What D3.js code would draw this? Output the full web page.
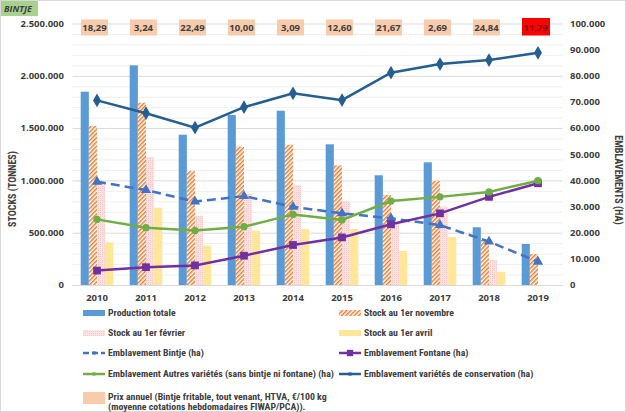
<!DOCTYPE html>
<html>
<head>
<meta charset="utf-8">
<script src="https://cdn.jsdelivr.net/npm/d3@7"></script>
<style>
  body { margin: 0; background: #fff; }
  svg { font-family: "Open Sans", "Noto Sans", sans-serif; font-weight: bold; }
  .tick-lbl { font-size: 9.5px; fill: #404040; }
  .leg { font-size: 9.8px; fill: #404040; font-family: "Liberation Sans Narrow", "Roboto Condensed", sans-serif; }
  .ttl { font-size: 10px; fill: #404040; font-family: "Liberation Sans Narrow", "Roboto Condensed", sans-serif; }
</style>
</head>
<body>
<svg id="chart" width="626" height="412"></svg>
<script>
// Bintje : stocks (t) et emblavements (ha)
const years = ['2010', '2011', '2012', '2013', '2014', '2015', '2016', '2017', '2018', '2019']

const production = [1848000, 2100000, 1437000, 1625000, 1666000, 1345000, 1049000, 1173000, 552000, 392000]
const stockNov = [1520000, 1743000, 1090000, 1322000, 1341000, 1144000, 860000, 994000, 430000, 296000]
const stockFeb = [965000, 1221000, 663000, 870000, 956000, 803000, 600000, 750000, 239000, 0]
const stockAvr = [408000, 739000, 376000, 519000, 535000, 535000, 325000, 459000, 127000, 0]

const emblBintje = [39500, 36300, 31900, 34000, 29900, 27400, 25500, 22900, 16600, 8900]
const emblFontane = [5500, 6800, 7500, 11200, 15300, 18200, 23200, 27400, 33700, 38900]
const emblAutres = [25100, 21900, 20800, 22300, 27000, 24900, 32100, 33700, 35600, 39900]
const emblConserv = [70600, 65700, 60200, 68000, 73300, 70700, 81200, 84500, 86000, 88800]

const prix = ['18,29', '3,24', '22,49', '10,00', '3,09', '12,60', '21,67', '2,69', '24,84', '11,79']

const leftTicks = [0, 500000, 1000000, 1500000, 2000000, 2500000]
const rightTicks = [0, 10000, 20000, 30000, 40000, 50000, 60000, 70000, 80000, 90000, 100000]

const fmt = d3.formatLocale({ decimal: ',', thousands: '.', grouping: [3], currency: ['', '€'] }).format(',d')

const svg = d3.select('#chart')
const plotTop = 23.5, plotBottom = 285, plotLeft = 72.5, plotRight = 562.5

const x = d3.scaleBand().domain(years).range([plotLeft, plotRight])
const xc = (d) => x(d) + x.bandwidth() / 2
const yL = d3.scaleLinear().domain([0, 2500000]).range([plotBottom, plotTop])
const yR = d3.scaleLinear().domain([0, 100000]).range([plotBottom, plotTop])

// frame
svg.append('rect').attr('x', 0.5).attr('y', 0.5).attr('width', 625).attr('height', 411)
  .attr('fill', 'none').attr('stroke', '#d9d9d9')

// pattern for hatched bars
const defs = svg.append('defs')
const hatch = defs.append('pattern').attr('id', 'hatch')
  .attr('patternUnits', 'userSpaceOnUse').attr('width', 3).attr('height', 3)
  .attr('patternTransform', 'rotate(45)')
hatch.append('rect').attr('width', 3).attr('height', 3).attr('fill', '#fff')
hatch.append('rect').attr('width', 1.5).attr('height', 3).attr('fill', '#ed7d31')

const dots = defs.append('pattern').attr('id', 'dots')
  .attr('patternUnits', 'userSpaceOnUse').attr('width', 2).attr('height', 2)
dots.append('rect').attr('width', 2).attr('height', 2).attr('fill', '#fde2e2')
dots.append('rect').attr('width', 1).attr('height', 1).attr('fill', '#f9c8c8')

// gridlines
const minor = d3.range(0, 2500001, 100000)
svg.append('g').selectAll('line').data(minor).join('line')
  .attr('x1', plotLeft).attr('x2', plotRight)
  .attr('y1', (d) => yL(d) + 0.5).attr('y2', (d) => yL(d) + 0.5)
  .attr('stroke', (d) => d % 500000 === 0 ? '#d9d9d9' : '#efefef')
  .attr('stroke-width', 1)

// bars
const series = [
  { vals: production, fill: '#5b9bd5' },
  { vals: stockNov, fill: 'url(#hatch)' },
  { vals: stockFeb, fill: 'url(#dots)' },
  { vals: stockAvr, fill: '#ffe699' }
]
const x1 = d3.scaleBand().domain(d3.range(4)).range([-16.3, 16.3])

series.forEach((s, si) => {
  svg.append('g').selectAll('rect').data(years).join('rect')
    .attr('x', (d) => xc(d) + x1(si))
    .attr('width', x1.bandwidth())
    .attr('y', (d, i) => yL(s.vals[i]))
    .attr('height', (d, i) => plotBottom - yL(s.vals[i]))
    .attr('fill', s.fill)
})

// axis baseline
svg.append('line').attr('x1', plotLeft).attr('x2', plotRight).attr('y1', plotBottom + 0.5).attr('y2', plotBottom + 0.5)
  .attr('stroke', '#d9d9d9')

// marker shapes
const sym = {
  triangle: d3.symbol().type(d3.symbolTriangle).size(45),
  square: d3.symbol().type(d3.symbolSquare).size(60),
  circle: d3.symbol().type(d3.symbolCircle).size(42),
  diamond: d3.symbol().type(d3.symbolDiamond).size(55)
}

const lines = [
  { vals: emblBintje, color: '#4472c4', dash: '9,5', marker: 'triangle' },
  { vals: emblFontane, color: '#7030a0', dash: null, marker: 'square' },
  { vals: emblAutres, color: '#70ad47', dash: null, marker: 'circle' },
  { vals: emblConserv, color: '#255e91', dash: null, marker: 'diamond' }
]

const lineGen = d3.line().x((d) => xc(d[0])).y((d) => yR(d[1]))

lines.forEach((l) => {
  const pts = years.map((y, i) => [y, l.vals[i]])
  svg.append('path').datum(pts)
    .attr('d', lineGen)
    .attr('fill', 'none')
    .attr('stroke', l.color)
    .attr('stroke-width', 2.5)
    .attr('stroke-dasharray', l.dash)
  svg.append('g').selectAll('path').data(pts).join('path')
    .attr('d', sym[l.marker])
    .attr('transform', (d) => 'translate(' + xc(d[0]) + ',' + yR(d[1]) + ')')
    .attr('fill', l.color)
})

// price labels
const pg = svg.append('g').selectAll('g').data(years).join('g')
  .attr('transform', (d) => 'translate(' + (xc(d) - 2.5) + ',27.5)')
pg.append('rect')
  .attr('x', -13.5).attr('y', (d, i) => i === years.length - 1 ? -9.5 : -8)
  .attr('width', (d, i) => i === years.length - 1 ? 28 : 27)
  .attr('height', (d, i) => i === years.length - 1 ? 17.5 : 16)
  .attr('fill', (d, i) => i === years.length - 1 ? '#ff0000' : '#f8cbad')
pg.append('text')
  .attr('text-anchor', 'middle').attr('dy', '0.35em')
  .attr('class', 'tick-lbl')
  .style('fill', (d, i) => i === years.length - 1 ? '#7f1010' : '#404040')
  .text((d, i) => prix[i])

// axis labels
svg.append('g').selectAll('text').data(leftTicks).join('text')
  .attr('class', 'tick-lbl')
  .attr('x', 64).attr('y', (d) => yL(d)).attr('dy', '0.35em')
  .attr('text-anchor', 'end')
  .text((d) => fmt(d))

svg.append('g').selectAll('text').data(rightTicks).join('text')
  .attr('class', 'tick-lbl')
  .attr('x', 570).attr('y', (d) => yR(d)).attr('dy', '0.35em')
  .text((d) => fmt(d))

svg.append('g').selectAll('text').data(years).join('text')
  .attr('class', 'tick-lbl')
  .attr('x', (d) => xc(d)).attr('y', 298).attr('dy', '0.35em')
  .attr('text-anchor', 'middle')
  .text((d) => d)

svg.append('text').attr('class', 'ttl')
  .attr('transform', 'translate(12,189) rotate(-90)')
  .attr('text-anchor', 'middle').attr('dy', '0.35em')
  .text('STOCKS (TONNES)')

svg.append('text').attr('class', 'ttl')
  .attr('transform', 'translate(618,180) rotate(90)')
  .attr('text-anchor', 'middle').attr('dy', '0.35em')
  .text('EMBLAVEMENTS (HA)')

// title tag
svg.append('rect').attr('x', 1).attr('y', 1).attr('width', 37).attr('height', 15).attr('fill', '#a9d18e')
svg.append('text').attr('x', 4).attr('y', 8.5).attr('dy', '0.35em')
  .style('font-size', '9px').style('font-style', 'italic').style('fill', '#404040')
  .text('BINTJE')

// legend
const legendItems = [
  { label: 'Production totale', kind: 'bar', fill: '#5b9bd5', col: 0, y: 313 },
  { label: 'Stock au 1er novembre', kind: 'bar', fill: 'url(#hatch)', col: 1, y: 313 },
  { label: 'Stock au 1er février', kind: 'bar', fill: 'url(#dots)', col: 0, y: 333 },
  { label: 'Stock au 1er avril', kind: 'bar', fill: '#ffe699', col: 1, y: 333 },
  { label: 'Emblavement Bintje (ha)', kind: 'line', l: lines[0], col: 0, y: 353 },
  { label: 'Emblavement Fontane (ha)', kind: 'line', l: lines[1], col: 1, y: 353 },
  { label: 'Emblavement Autres variétés (sans bintje ni fontane) (ha)', kind: 'line', l: lines[2], col: 0, y: 374 },
  { label: 'Emblavement variétés de conservation (ha)', kind: 'line', l: lines[3], col: 1, y: 374 }
]
const colX = [83, 339]

legendItems.forEach((it) => {
  const g = svg.append('g').attr('transform', 'translate(' + colX[it.col] + ',' + it.y + ')')
  if (it.kind === 'bar') {
    g.append('rect').attr('x', 0).attr('y', -3).attr('width', 22).attr('height', 6).attr('fill', it.fill)
  } else {
    g.append('line').attr('x1', 0).attr('x2', 22).attr('y1', 0).attr('y2', 0)
      .attr('stroke', it.l.color).attr('stroke-width', 2.5)
      .attr('stroke-dasharray', it.l.dash ? '6,3' : null)
    g.append('path').attr('d', d3.symbol().type(d3.symbolSquare).size(it.l.marker === 'square' ? 40 : 10)())
      .attr('transform', 'translate(11,0)').attr('fill', it.l.color)
  }
  g.append('text').attr('class', 'leg').attr('x', 25).attr('dy', '0.35em').text(it.label)
})

const pgl = svg.append('g').attr('transform', 'translate(83,392)')
pgl.append('rect').attr('x', 0).attr('y', 0).attr('width', 22).attr('height', 12).attr('fill', '#f8cbad')
pgl.append('text').attr('class', 'leg').attr('x', 25).attr('y', 5).attr('dy', '0.35em')
  .text('Prix annuel (Bintje fritable, tout venant, HTVA, €/100 kg')
pgl.append('text').attr('class', 'leg').attr('x', 25).attr('y', 15).attr('dy', '0.35em')
  .text('(moyenne cotations hebdomadaires FIWAP/PCA)).')
</script>
</body>
</html>
